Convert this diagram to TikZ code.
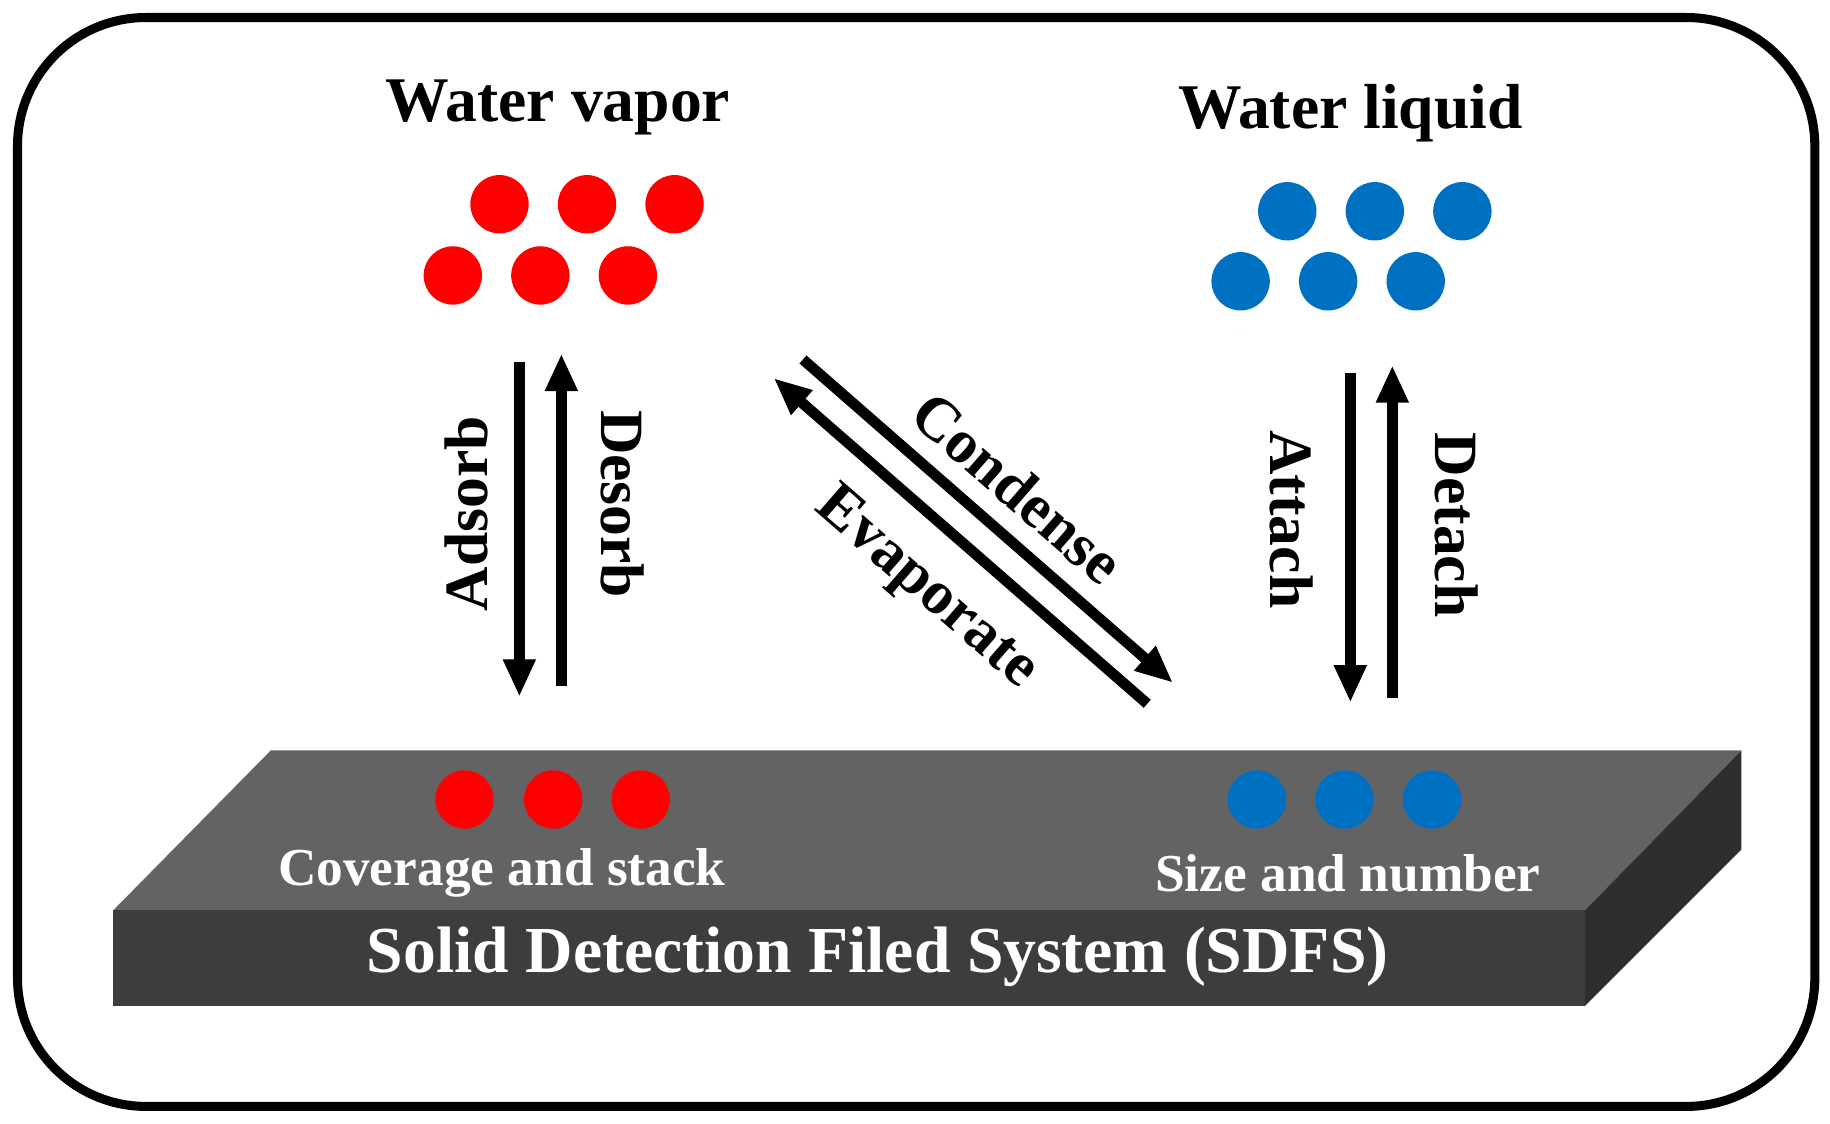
\documentclass[tikz,border=0pt]{standalone}
\usepackage{fontspec}
\setmainfont{Liberation Serif}
\usetikzlibrary{arrows.meta}
\definecolor{vapor}{RGB}{255,0,0}
\definecolor{liquid}{RGB}{0,112,192}
\tikzset{
  dot/.style={circle,minimum size=0.5cm,inner sep=0pt},
  title/.style={font=\fontsize{15.5}{18}\selectfont\bfseries},
  lbl/.style={font=\fontsize{15}{18}\selectfont\bfseries},
  slabtext/.style={font=\fontsize{13}{16}\selectfont\bfseries,text=white},
  flow/.style={line width=2.6pt,-{Triangle[length=0.32cm,width=0.26cm]}}
}
\begin{document}
\begin{tikzpicture}[x=0.01cm,y=-0.01cm]
        \useasboundingbox (0,0) rectangle (1568,963);
        % frame
        \draw[line width=2.2pt,rounded corners=1.1cm] (15,15) rectangle (1555,948);

        % slab
        \fill[black!61] (232,643) -- (1492,643) -- (1358,780) -- (97,780) -- cycle;
        \fill[black!76] (97,780) rectangle (1358,862);
        \fill[black!82] (1358,780) -- (1492,643) -- (1492,728) -- (1358,862) -- cycle;
        \node[slabtext] (cov) at (430,748) {Coverage and stack};
        \node[slabtext] (size) at (1155,748) {Size and number};
        \node[slabtext,font=\fontsize{16}{19}\selectfont\bfseries] (sdfs) at (752,820) {Solid Detection Filed System (SDFS)};
        \foreach \x [count=\i] in {398,474,549} \node[dot,fill=vapor] (sv\i) at (\x,685) {};
        \foreach \x [count=\i] in {1077,1152,1227} \node[dot,fill=liquid] (sl\i) at (\x,685) {};

        % water vapor
        \node[title] (vapor) at (478,92) {Water vapor};
        \foreach \x [count=\i] in {428,503,578} \node[dot,fill=vapor] (vt\i) at (\x,175) {};
        \foreach \x [count=\i] in {388,463,538} \node[dot,fill=vapor] (vb\i) at (\x,236) {};

        % water liquid
        \node[title] (liquid) at (1157,97) {Water liquid};
        \foreach \x [count=\i] in {1103,1178,1253} \node[dot,fill=liquid] (lt\i) at (\x,181) {};
        \foreach \x [count=\i] in {1063,1138,1213} \node[dot,fill=liquid] (lb\i) at (\x,241) {};

        % adsorb / desorb
        \coordinate (ads1) at (445,310); \coordinate (ads2) at (445,597);
        \coordinate (des1) at (481,588); \coordinate (des2) at (481,303);
        \draw[flow] (ads1) -- (ads2);
        \draw[flow] (des1) -- (des2);
        \node[lbl,rotate=90] (adsorb) at (400,440) {Adsorb};
        \node[lbl,rotate=-90] (desorb) at (533,432) {Desorb};

        % attach / detach
        \coordinate (att1) at (1157,320); \coordinate (att2) at (1157,602);
        \coordinate (det1) at (1193,598); \coordinate (det2) at (1193,313);
        \draw[flow] (att1) -- (att2);
        \draw[flow] (det1) -- (det2);
        \node[lbl,rotate=-90] (attach) at (1107,445) {Attach};
        \node[lbl,rotate=-90] (detach) at (1248,450) {Detach};

        % condense / evaporate
        \coordinate (con1) at (688,308); \coordinate (con2) at (1005,585);
        \coordinate (eva1) at (983,603); \coordinate (eva2) at (663,324);
        \draw[flow] (con1) -- (con2);
        \draw[flow] (eva1) -- (eva2);
        \node[lbl,rotate=-41] (condense) at (872,418) {Condense};
        \node[lbl,rotate=-41] (evaporate) at (793,505) {Evaporate};
\end{tikzpicture}
\end{document}
